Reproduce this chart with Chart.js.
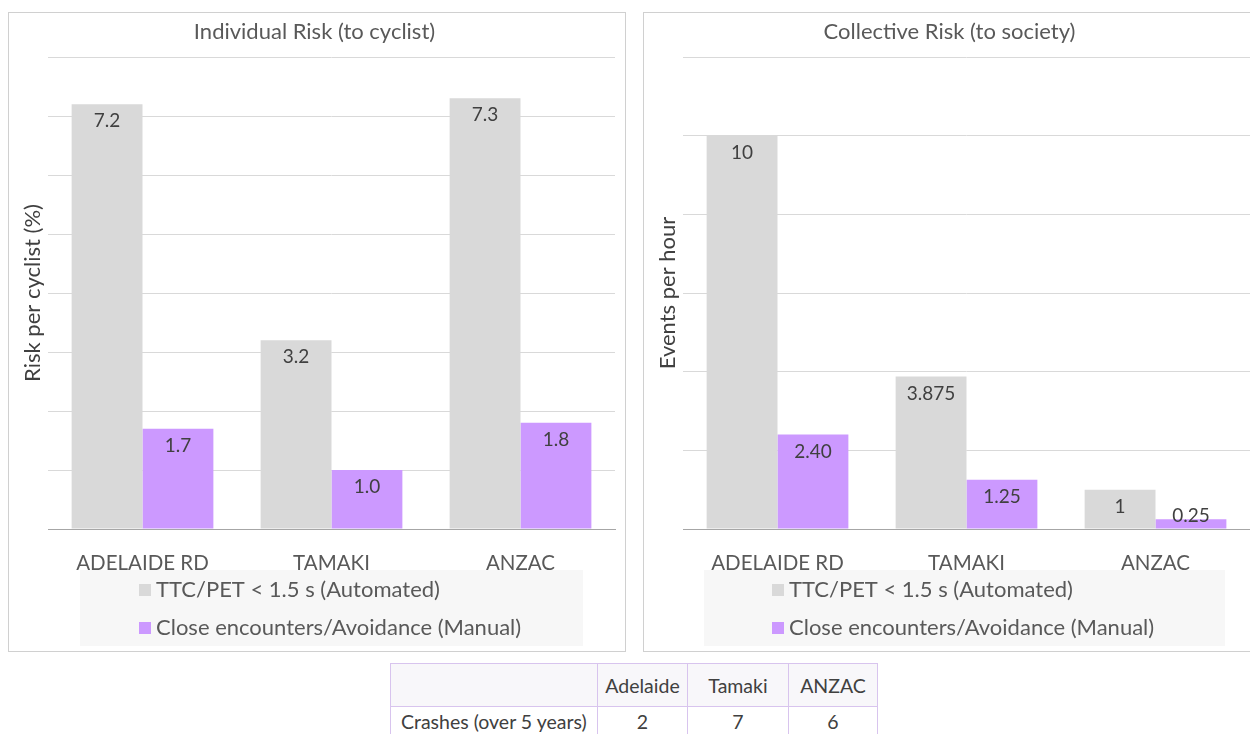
<!DOCTYPE html>
<html>
<head>
<meta charset="utf-8">
<script src="https://cdn.jsdelivr.net/npm/chart.js@4.4.1/dist/chart.umd.min.js"></script>
<style>
  html, body { margin: 0; padding: 0; background: #fff; overflow: hidden; }
  #page { position: relative; width: 1250px; height: 734px; overflow: hidden; }
  .panel { position: absolute; top: 12px; width: 618px; height: 640px; border: 1px solid #d0d0d0; box-sizing: border-box; background: #fff; }
  #leftPanel { left: 8px; }
  #rightPanel { left: 643px; }
  canvas { display: block; }
  table { position: absolute; left: 390px; top: 663px; border-collapse: collapse; font-family: Lato, sans-serif; font-size: 19.5px; color: #404040; }
  td { border: 1px solid #d8c4ee; text-align: center; padding: 0; }
  tr.head td { height: 42px; background: #f8f7fa; }
  tr.body td { height: 28px; }
</style>
</head>
<body>
<div id="page">
<div class="panel" id="leftPanel"><canvas id="individual-chart" width="616" height="638"></canvas></div>
<div class="panel" id="rightPanel"><canvas id="collective-chart" width="616" height="638"></canvas></div>
<table>
  <tr class="head"><td style="width:206px"></td><td style="width:89px">Adelaide</td><td style="width:100px">Tamaki</td><td style="width:88px">ANZAC</td></tr>
  <tr class="body"><td style="text-align:left;padding-left:10px">Crashes (over 5 years)</td><td>2</td><td>7</td><td>6</td></tr>
</table>
</div>
<script>
const sites = ['ADELAIDE RD', 'TAMAKI', 'ANZAC'];
const seriesNames = ['TTC/PET < 1.5 s (Automated)', 'Close encounters/Avoidance (Manual)'];

const individualAuto = [7.2, 3.2, 7.3];
const individualManual = [1.7, 1.0, 1.8];

const collectiveAuto = [10, 3.875, 1];
const collectiveManual = [2.40, 1.25, 0.25];

const GRAY = '#d9d9d9';
const PURPLE = '#cc99ff';
const TEXT = '#595959';

function valueLabels(formatters) {
  return {
    id: 'valueLabels',
    afterDatasetsDraw(chart) {
      const ctx = chart.ctx;
      ctx.save();
      ctx.font = '19px Lato';
      ctx.fillStyle = '#404040';
      ctx.textAlign = 'center';
      ctx.textBaseline = 'middle';
      chart.data.datasets.forEach((ds, i) => {
        chart.getDatasetMeta(i).data.forEach((bar, j) => {
          const y = Math.min(bar.y + 17, bar.base - 13);
          ctx.fillText(formatters[i](ds.data[j]), bar.x, y);
        });
      });
      ctx.restore();
    }
  };
}

function boxLegend(box) {
  return {
    id: 'boxLegend',
    afterDraw(chart) {
      const ctx = chart.ctx;
      ctx.save();
      ctx.fillStyle = '#f7f7f7';
      ctx.fillRect(box.x, box.y, box.w, box.h);
      ctx.font = '22px Lato';
      ctx.textBaseline = 'middle';
      chart.data.datasets.forEach((ds, i) => {
        const cy = box.y + 20 + i * 38;
        ctx.fillStyle = ds.backgroundColor;
        ctx.fillRect(box.markerX, cy - 6, 12, 12);
        ctx.fillStyle = TEXT;
        ctx.fillText(ds.label, box.markerX + 17, cy);
      });
      ctx.restore();
    }
  };
}

function makeChart(canvasId, title, yTitle, auto, manual, yMax, yStep, formatters, box) {
  new Chart(document.getElementById(canvasId), {
    type: 'bar',
    data: {
      labels: sites,
      datasets: [
        { label: seriesNames[0], data: auto, backgroundColor: GRAY },
        { label: seriesNames[1], data: manual, backgroundColor: PURPLE }
      ]
    },
    options: {
      responsive: false,
      animation: false,
      layout: { padding: { left: 5, right: 10, top: 0, bottom: 0 } },
      categoryPercentage: 0.75,
      barPercentage: 1,
      plugins: {
        legend: { display: false },
        tooltip: { enabled: false },
        title: {
          display: true,
          text: title,
          color: TEXT,
          font: { family: 'Lato', size: 22, weight: 'normal' },
          padding: { top: 6, bottom: 11.6 }
        }
      },
      scales: {
        x: {
          grid: { display: false, drawTicks: false },
          border: { display: true, color: '#a6a6a6' },
          ticks: { color: TEXT, font: { family: 'Lato', size: 20.5 }, padding: 22, maxRotation: 0 },
          afterFit(scale) { scale.height = 122; }
        },
        y: {
          min: 0,
          max: yMax,
          ticks: { display: false, stepSize: yStep },
          grid: { color: '#d9d9d9', drawTicks: false },
          border: { display: false },
          title: {
            display: true,
            text: yTitle,
            color: '#404040',
            font: { family: 'Lato', size: 22 },
            padding: { top: 6, bottom: 0 }
          },
          afterFit(scale) { scale.width = 34; }
        }
      }
    },
    plugins: [valueLabels(formatters), boxLegend(box)]
  });
}

makeChart('individual-chart', 'Individual Risk (to cyclist)', 'Risk per cyclist (%)',
  individualAuto, individualManual, 8, 1,
  [v => v.toFixed(1), v => v.toFixed(1)],
  { x: 71, y: 557, w: 503, h: 76, markerX: 130 });

makeChart('collective-chart', 'Collective Risk (to society)', 'Events per hour',
  collectiveAuto, collectiveManual, 12, 2,
  [v => String(v), v => v.toFixed(2)],
  { x: 60, y: 557, w: 521, h: 76, markerX: 128 });
</script>
</body>
</html>
